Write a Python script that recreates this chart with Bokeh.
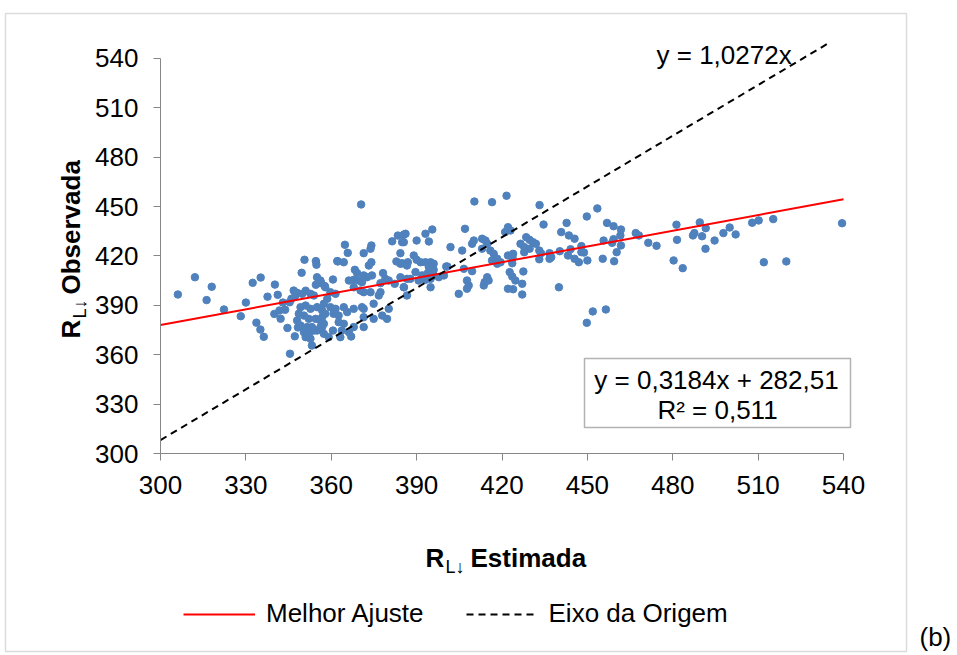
import math
from bokeh.plotting import figure
from bokeh.models import (Range1d, FixedTicker, Label, BoxAnnotation, Legend, LegendItem)
from bokeh.embed import file_html
from bokeh.resources import INLINE

# ---------------- data ----------------
estimada = [
    306.1, 312.1, 318.0, 316.2, 322.3, 328.2, 330.0, 332.4, 335.2, 333.7, 335.1, 336.3, 340.2, 337.6, 341.2,
    340.0, 341.8, 343.8, 342.2, 343.0, 344.6, 345.5, 347.2, 349.6, 350.6, 354.6, 354.8, 355.0, 354.6, 356.5,
    357.7, 360.6, 362.1, 351.0, 346.8, 348.0, 347.4, 346.0, 345.4, 349.8, 352.7, 353.9, 353.2, 348.3,
    349.2, 351.0, 352.7, 355.0, 356.8, 357.9, 348.6, 350.4, 352.1, 354.5, 356.2, 348.0, 349.2, 351.5, 353.2,
    355.0, 356.8, 350.4, 352.1, 353.9, 351.0, 352.7,
    370.5, 364.8, 365.8, 362.3, 364.4, 374.1, 373.8, 371.4, 374.1, 373.2, 368.3, 369.1, 371.4, 372.6, 374.3,
    366.2, 367.9, 369.7, 370.8, 378.2, 379.0, 380.2, 377.3, 381.4, 383.4, 385.5, 384.9, 384.3, 382.9, 384.9,
    386.9, 384.3, 386.6, 382.3, 385.5, 371.4, 373.8, 377.3, 376.7, 367.9, 370.3, 357.9, 359.7, 361.5, 357.4,
    359.7, 361.5, 364.4, 360.8, 362.6, 365.6, 367.9, 370.8, 371.4, 374.9, 380.2, 379.6, 377.9, 374.9, 371.4,
    367.9, 371.4, 363.7, 366.2, 367.0, 360.6, 359.1, 356.2, 356.8, 356.2, 358.6, 357.4, 357.4, 363.2, 362.6,
    364.4,
    410.3, 416.5, 421.6, 386.1, 385.5, 393.1, 394.3, 395.5, 390.0, 389.0, 390.0, 391.4, 393.1, 394.9, 396.0,
    394.3, 396.0, 384.3, 386.6, 389.6, 391.9, 393.7, 396.0, 387.8, 390.7, 393.1, 394.9, 397.8, 400.8, 385.5,
    386.6, 394.9, 399.6, 401.9, 406.0, 407.0, 409.5, 410.1, 413.0, 414.2, 414.8, 413.0, 415.9, 417.1, 418.3,
    416.5, 418.3, 419.5, 407.7, 408.3, 407.7, 404.8, 414.8, 415.3, 413.6, 421.1, 422.1, 422.1, 422.1, 400.4,
    406.6, 409.5, 413.9,
    433.2, 453.5, 449.8, 434.6, 423.0, 442.7, 440.8, 443.5, 445.5, 447.9, 456.9, 459.2, 461.8, 461.6, 459.2,
    458.7, 455.7, 461.8, 460.3, 459.4, 455.4, 467.0, 468.1, 471.4, 474.3, 428.5, 429.7, 430.9, 426.5, 427.8,
    429.7, 427.8, 431.9, 423.9, 423.7, 423.6, 433.1, 433.7, 433.1, 436.7, 437.3, 436.7, 440.3, 443.2, 444.1,
    445.5, 447.0, 448.8, 450.0, 447.9, 422.7, 423.6, 424.7, 423.9, 427.1, 427.1, 427.5, 440.0, 451.9, 456.5,
    449.8,
    481.3, 481.5, 480.3, 483.5, 489.5, 487.6, 487.1, 490.3, 491.6, 491.5, 494.7, 497.8, 500.0, 502.1, 507.9,
    510.2, 515.3, 512.0, 519.9, 539.5,
]
observada = [
    396.6, 407.1, 401.3, 393.2, 387.5, 383.4, 391.7, 403.7, 406.9, 379.5, 375.3, 370.9, 402.6, 395.3, 396.4,
    384.8, 386.9, 387.3, 381.9, 391.7, 376.3, 360.6, 371.2, 409.8, 417.7, 416.9, 414.7, 407.1, 402.5, 403.4,
    401.8, 405.7, 416.9, 398.9, 399.0, 397.6, 396.0, 394.0, 391.9, 397.0, 397.0, 396.0, 365.6, 376.6,
    388.9, 389.9, 387.9, 388.9, 386.9, 384.9, 384.9, 383.8, 381.8, 381.8, 380.8, 380.8, 377.8, 376.8, 376.8,
    374.7, 376.8, 373.7, 372.7, 374.7, 370.7, 369.7,
    451.3, 426.8, 421.9, 416.7, 416.2, 426.4, 424.4, 421.7, 416.2, 414.2, 411.6, 409.6, 408.2, 407.1, 408.2,
    405.1, 405.5, 405.1, 404.1, 409.6, 406.1, 405.1, 403.5, 428.9, 432.4, 433.0, 428.4, 421.7, 416.7, 415.6,
    416.2, 407.1, 406.1, 403.1, 401.0, 398.0, 398.0, 398.0, 396.0, 401.0, 399.0, 401.0, 398.0, 397.0, 391.0,
    388.9, 387.9, 388.9, 384.9, 383.8, 385.9, 387.9, 388.9, 387.9, 391.0, 387.9, 381.8, 383.8, 381.8, 382.8,
    376.8, 376.8, 374.7, 373.7, 371.1, 374.7, 370.7, 376.8, 382.8, 405.1, 394.0, 378.8, 372.7, 370.7, 379.8,
    378.8,
    453.1, 452.7, 456.6, 433.5, 428.4, 433.5, 428.8, 436.1, 429.4, 420.3, 417.7, 416.2, 416.2, 416.2, 415.3,
    413.2, 411.6, 415.3, 414.2, 410.2, 408.2, 409.2, 408.2, 406.1, 405.1, 405.5, 406.1, 407.1, 413.6, 401.0,
    396.0, 401.0, 408.2, 425.4, 423.3, 436.5, 427.4, 429.4, 430.5, 429.4, 427.4, 424.4, 423.3, 421.3, 418.3,
    417.3, 415.3, 416.2, 405.1, 402.1, 400.1, 397.0, 407.1, 405.1, 402.1, 434.5, 437.5, 420.3, 400.1, 413.6,
    412.2, 410.8, 404.1,
    450.9, 448.9, 444.0, 439.1, 435.5, 440.1, 434.5, 432.5, 430.5, 426.0, 440.1, 438.1, 436.1, 432.5, 430.2,
    428.0, 429.4, 426.4, 422.3, 416.8, 418.3, 433.9, 432.5, 428.0, 426.2, 431.4, 429.8, 428.4, 427.4, 425.4,
    424.4, 422.3, 427.4, 421.3, 418.9, 415.6, 423.3, 421.7, 418.0, 421.7, 419.3, 418.3, 422.9, 420.3, 424.1,
    418.3, 416.2, 422.1, 417.3, 422.3, 410.2, 407.5, 405.1, 399.8, 403.1, 396.6, 410.6, 401.0, 386.3, 387.5,
    379.4,
    439.0, 429.8, 417.3, 412.6, 440.4, 433.9, 432.5, 432.0, 436.9, 424.4, 429.4, 433.9, 437.3, 433.1, 440.2,
    441.6, 442.4, 416.2, 416.7, 439.9,
]
x_ticks = [300, 330, 360, 390, 420, 450, 480, 510, 540]
y_ticks = [300, 330, 360, 390, 420, 450, 480, 510, 540]
fit_slope, fit_intercept = 0.3184, 282.51
origin_slope = 1.0272
fit_label = "y = 0,3184x + 282,51"
r2_label = "R² = 0,511"
origin_label = "y = 1,0272x"
legend_labels = ["Melhor Ajuste", "Eixo da Origem"]

# ---------------- layout helpers ----------------
X0, X1 = 300, 540          # plotted x range
Y0, Y1 = 300, 549.7        # plotted y range
FL, FR, FT, FB = 160, 843, 42, 453   # plot area in pixels
W, H = 957, 655
FONT = "Liberation Sans"
FS = "26px"

def px(xp):
    return X0 + (xp - FL) * (X1 - X0) / (FR - FL)

def py(yp):
    return Y0 + (FB - yp) * (Y1 - Y0) / (FB - FT)

# frame covers the whole canvas; axes are pinned at the plot-area edges
p = figure(width=W, height=H, output_backend="svg", toolbar_location=None,
           x_range=Range1d(px(0), px(W)), y_range=Range1d(py(H), py(0)),
           min_border=0, min_border_left=0, min_border_right=0,
           min_border_top=0, min_border_bottom=0)
p.background_fill_color = "white"
p.border_fill_color = "white"
p.outline_line_color = None
p.xgrid.visible = False
p.ygrid.visible = False

p.xaxis[0].fixed_location = Y0
p.yaxis[0].fixed_location = X0
p.xaxis[0].bounds = (X0, X1)
p.yaxis[0].bounds = (Y0, 540)
for ax in (p.xaxis[0], p.yaxis[0]):
    ax.axis_line_color = "#868686"
    ax.major_tick_line_color = "#868686"
    ax.major_tick_out = 7
    ax.major_tick_in = 0
    ax.minor_tick_line_color = None
    ax.major_label_text_font = FONT
    ax.major_label_text_font_size = FS
    ax.major_label_text_color = "black"
p.xaxis[0].ticker = FixedTicker(ticks=x_ticks)
p.yaxis[0].ticker = FixedTicker(ticks=y_ticks)
p.xaxis[0].major_label_standoff = 15
p.yaxis[0].major_label_standoff = 15

# outer frame
p.add_layout(BoxAnnotation(left=px(5), right=px(906), top=py(13), bottom=py(651),
                           fill_alpha=0, line_color="#8c8c8c", line_width=1.5, level="underlay"))

# points
p.scatter(estimada, observada, size=7.5, marker="circle",
          fill_color="#4F81BD", line_color="#4F81BD")

# trend lines
xs = [X0, X1]
r_fit = p.line(xs, [fit_slope * v + fit_intercept for v in xs], line_color="red", line_width=2)
x_end = Y1 / origin_slope
r_org = p.line([X0, x_end], [origin_slope * X0, origin_slope * x_end],
               line_color="black", line_width=2, line_dash="7 5")

# legend below plot area
leg = Legend(items=[LegendItem(label=legend_labels[0], renderers=[r_fit]),
                    LegendItem(label=legend_labels[1], renderers=[r_org])],
             orientation="horizontal", location=(183, H - 629),
             glyph_width=72, glyph_height=30, label_height=30, label_standoff=11,
             spacing=42, padding=0, margin=0, border_line_color=None,
             background_fill_alpha=0, label_text_font=FONT, label_text_font_size=FS,
             label_text_color="black")
p.add_layout(leg, "center")

def lab(text, x, y, size=FS, style="normal", align="left", baseline="middle", angle=0.0):
    p.add_layout(Label(x=x, y=y, text=text, text_font=FONT, text_font_size=size,
                       text_font_style=style, text_align=align, text_baseline=baseline,
                       text_color="black", angle=angle))

# axis titles
lab("R", px(425), py(557), style="bold", baseline="alphabetic")
lab("L↓", px(445), py(566), size="18px", baseline="alphabetic")
lab("Estimada", px(470), py(557), style="bold", baseline="alphabetic")
lab("R", px(70), py(338), style="bold", baseline="alphabetic", angle=math.pi / 2)
lab("L↓", px(79), py(318), size="18px", baseline="alphabetic", angle=math.pi / 2)
lab("Observada", px(70), py(294), style="bold", baseline="alphabetic", angle=math.pi / 2)

# equation labels
lab(origin_label, px(656), py(54))
p.add_layout(BoxAnnotation(left=px(584), right=px(850), top=py(358), bottom=py(427),
                           fill_color="white", fill_alpha=1, line_color="black", line_width=1.5))
lab(fit_label, px(716), py(379), align="center")
lab(r2_label, px(717), py(409), align="center")
lab("(b)", px(919), py(636))

open("out.html", "w").write(file_html(p, INLINE))
